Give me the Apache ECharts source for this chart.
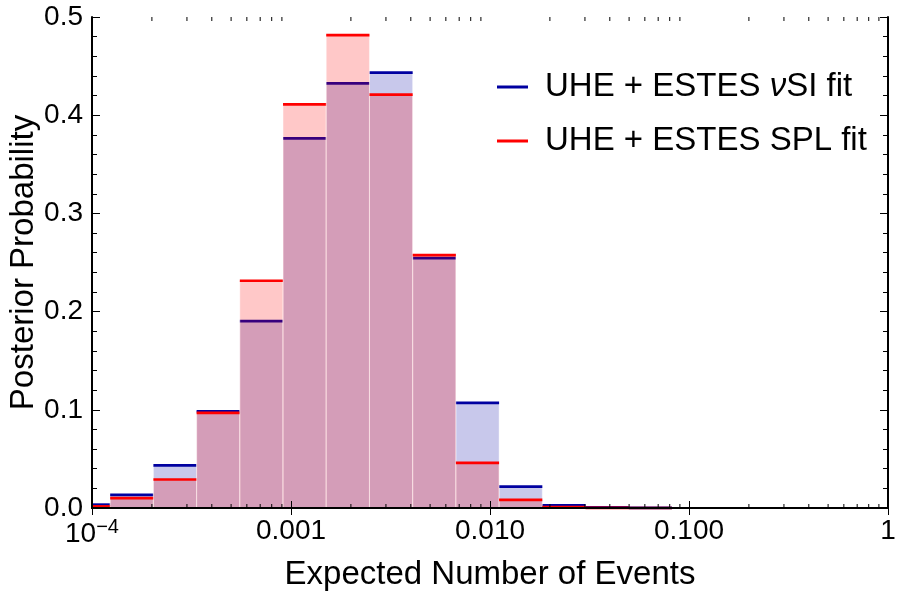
<!DOCTYPE html>
<html>
<head>
<meta charset="utf-8">
<script src="https://cdn.jsdelivr.net/npm/echarts@6/dist/echarts.min.js"></script>
<style>html,body{margin:0;padding:0;background:#fff}#c{width:897px;height:595px}</style>
</head>
<body>
<div id="c"></div>
<script>
// Histogram bin edges (bins of width 0.5 in natural log: e^-9.5 ... e^-2)
const binLow  = [7.485e-5, 1.234e-4, 2.035e-4, 3.355e-4, 5.531e-4, 9.119e-4, 1.503e-3, 2.479e-3, 4.087e-3, 6.738e-3, 1.111e-2, 1.832e-2, 3.020e-2, 4.979e-2];
const binHigh = [1.234e-4, 2.035e-4, 3.355e-4, 5.531e-4, 9.119e-4, 1.503e-3, 2.479e-3, 4.087e-3, 6.738e-3, 1.111e-2, 1.832e-2, 3.020e-2, 4.979e-2, 8.208e-2];
// Posterior probabilities
const nuSIValues = [0.0034, 0.0133, 0.0435, 0.0985, 0.1903, 0.3765, 0.4325, 0.4434, 0.2545, 0.1070, 0.0217, 0.0026, 0.0006, 0.0002];
const splValues  = [0.0016, 0.0100, 0.0290, 0.0968, 0.2314, 0.4110, 0.4815, 0.4210, 0.2576, 0.0459, 0.0082, 0.0008, 0.0002, 0.0000];
const seriesNames = ['UHE + ESTES \u03BDSI fit', 'UHE + ESTES SPL fit'];
// Axis ticks
const xMajorTicks = [1e-4, 1e-3, 1e-2, 1e-1, 1];
const xTickLabels = ['{b|10}{s|\u22124}', '0.001', '0.010', '0.100', '1'];
const xMinorTicks = [2e-4,3e-4,4e-4,5e-4,6e-4,7e-4,8e-4,9e-4,2e-3,3e-3,4e-3,5e-3,6e-3,7e-3,8e-3,9e-3,2e-2,3e-2,4e-2,5e-2,6e-2,7e-2,8e-2,9e-2,0.2,0.3,0.4,0.5,0.6,0.7,0.8,0.9];

const FONT = '"Liberation Sans", Arial, sans-serif';
const FS = 28;      // tick labels
const FT = 33;      // axis titles
const FL = 33;      // legend

function toData(vals){ return vals.map((v,i)=>[binLow[i], binHigh[i], v]); }

function barRender(fill, lineColor){
  return function(params, api){
    const cs = params.coordSys;
    const p0 = api.coord([api.value(0), api.value(2)]);
    const p1 = api.coord([api.value(1), 0]);
    const xa = Math.max(p0[0], cs.x), xb = Math.min(p1[0], cs.x + cs.width);
    if (xb <= xa) return null;
    return {type:'group', children:[
      {type:'rect', shape:{x:xa, y:p0[1], width:xb-xa, height:p1[1]-p0[1]},
       style:{fill:fill, stroke:'rgba(255,255,255,0.4)', lineWidth:1}},
      {type:'line', shape:{x1:xa, y1:p0[1], x2:xb, y2:p0[1]},
       style:{stroke:lineColor, lineWidth:2.7}}
    ]};
  };
}

function minorRender(params, api){
  const cs = params.coordSys;
  const x = api.coord([api.value(0), 0])[0];
  const yb = cs.y + cs.height, yt = cs.y;
  return {type:'group', children:[
    {type:'line', shape:{x1:x, y1:yb, x2:x, y2:yb-4}, style:{stroke:'#000', lineWidth:1}},
    {type:'line', shape:{x1:x, y1:yt, x2:x, y2:yt+4}, style:{stroke:'#000', lineWidth:1}}
  ]};
}

const chart = echarts.init(document.getElementById('c'), null, {renderer:'canvas'});
const axisLine = {show:true, lineStyle:{color:'#000', width:2}};
const xLog = {
  type:'log', logBase:10, min:1e-4, max:1, z:10,
  axisLine:axisLine, splitLine:{show:false},
  axisTick:{show:true, inside:true, length:7, lineStyle:{color:'#000', width:1}}
};
const yVal = {
  type:'value', min:0, max:0.5, interval:0.1, z:10,
  axisLine:axisLine, splitLine:{show:false},
  axisTick:{show:true, inside:true, length:8, lineStyle:{color:'#000', width:1}},
  minorTick:{show:true, splitNumber:5, length:5, lineStyle:{color:'#000', width:1}}
};

chart.setOption({
  animation:false,
  textStyle:{fontFamily:FONT},
  grid:{left:92, right:9, top:17, bottom:87, containLabel:false, outerBoundsMode:'none'},
  xAxis:[
    Object.assign({}, xLog, {
      position:'bottom',
      name:'Expected Number of Events', nameLocation:'middle', nameGap:50, nameMoveOverlap:false,
      nameTextStyle:{fontSize:FT, color:'#000', fontFamily:FONT},
      axisLabel:{show:true, margin:9, color:'#000', fontSize:FS, fontFamily:FONT, showMinLabel:true, showMaxLabel:true,
        formatter:function(v){ for (let i=0;i<xMajorTicks.length;i++){ if (Math.abs(Math.log10(v)-Math.log10(xMajorTicks[i]))<1e-6) return xTickLabels[i]; } return ''; },
        rich:{b:{fontSize:FS, fontFamily:FONT, color:'#000'}, s:{fontSize:20, fontFamily:FONT, color:'#000', padding:[0,0,14,0]}}}
    }),
    Object.assign({}, xLog, {position:'top', axisLabel:{show:false}})
  ],
  yAxis:[
    Object.assign({}, yVal, {
      position:'left',
      name:'Posterior Probability', nameLocation:'middle', nameGap:52, nameMoveOverlap:false,
      nameTextStyle:{fontSize:FT, color:'#000', fontFamily:FONT},
      axisLabel:{show:true, margin:9, color:'#000', fontSize:FS, fontFamily:FONT, formatter:function(v){return v.toFixed(1);}}
    }),
    Object.assign({}, yVal, {position:'right', axisLabel:{show:false}})
  ],
  legend:{
    orient:'vertical', left:497, top:70, padding:0, itemWidth:31, itemHeight:3, itemGap:20,
    icon:'rect', data:seriesNames,
    formatter:function(n){ return n.replace('\u03BD', '{i|\u03BD}'); },
    textStyle:{fontSize:FL, lineHeight:34, color:'#000', fontFamily:FONT, padding:[0,0,0,12],
      rich:{i:{fontSize:FL, lineHeight:34, fontStyle:'italic', color:'#000', fontFamily:FONT}}}
  },
  series:[
    {name:seriesNames[0], type:'custom', renderItem:barRender('rgba(0,0,162,0.216)', '#0000A0'),
     itemStyle:{color:'#0000A0'}, encode:{x:[0,1], y:2}, data:toData(nuSIValues), z:2},
    {name:seriesNames[1], type:'custom', renderItem:barRender('rgba(255,0,0,0.216)', '#FF0000'),
     itemStyle:{color:'#FF0000'}, encode:{x:[0,1], y:2}, data:toData(splValues), z:3},
    {name:'minor', type:'custom', renderItem:minorRender, encode:{x:0}, data:xMinorTicks.map(v=>[v]), z:11, silent:true}
  ]
});
</script>
</body>
</html>
